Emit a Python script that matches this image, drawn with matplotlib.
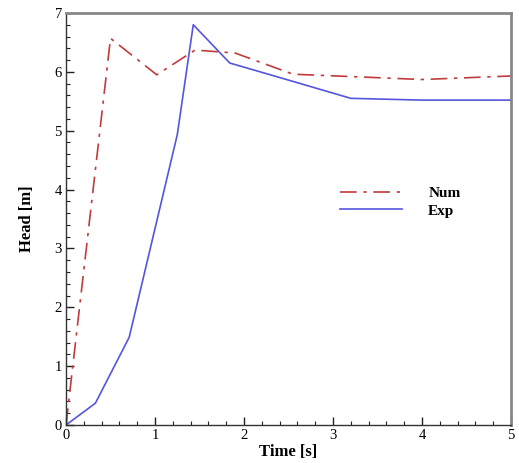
import matplotlib
matplotlib.use("Agg")
import matplotlib.pyplot as plt
from matplotlib.ticker import MultipleLocator

num_t = [0.0, 0.5, 1.02, 1.45, 1.9, 2.55, 3.2, 4.0, 5.0]
num_h = [0.0, 6.57, 5.95, 6.37, 6.32, 5.96, 5.92, 5.87, 5.93]
exp_t = [0.0, 0.33, 0.71, 1.25, 1.43, 1.84, 2.5, 3.2, 4.0, 5.0]
exp_h = [0.0, 0.37, 1.49, 4.93, 6.8, 6.15, 5.86, 5.55, 5.52, 5.52]

serif = ["Liberation Serif", "DejaVu Serif"]

fig = plt.figure(figsize=(5.19, 4.63), dpi=100)
ax = fig.add_axes([66/519, 38/463, 445/519, 412/463])

ax.plot(num_t, num_h, color="#c23b3b", lw=1.2, dashes=(10, 4, 2, 4), label="Num")
ax.plot(exp_t, exp_h, color="#5555dd", lw=1.2, label="Exp")

ax.set_xlim(0, 5)
ax.set_ylim(0, 7)
ax.xaxis.set_major_locator(MultipleLocator(1))
ax.xaxis.set_minor_locator(MultipleLocator(0.2))
ax.yaxis.set_major_locator(MultipleLocator(1))
ax.yaxis.set_minor_locator(MultipleLocator(0.2))
ax.tick_params(which="major", direction="in", length=6, width=1, color="#222222", labelsize=10.5, pad=3)
ax.tick_params(which="minor", direction="in", length=3, width=0.8, color="#222222")
for lab in ax.get_xticklabels() + ax.get_yticklabels():
    lab.set_family(serif)

for s in ["left", "bottom"]:
    ax.spines[s].set_color("#333333")
    ax.spines[s].set_linewidth(1.0)
for s in ["top", "right"]:
    ax.spines[s].set_color("#888888")
    ax.spines[s].set_linewidth(2.0)

ax.set_xlabel("Time [s]", family=serif, fontweight="bold", fontsize=12, labelpad=1)
ax.set_ylabel("Head [m]", family=serif, fontweight="bold", fontsize=12, labelpad=14)

leg = ax.legend(loc="upper left", bbox_to_anchor=(0.584, 0.612), frameon=False,
                prop={"family": serif, "weight": "bold", "size": 11},
                handlelength=4.1, handletextpad=1.7, labelspacing=0.25)

fig.savefig("out.png", dpi=100)
